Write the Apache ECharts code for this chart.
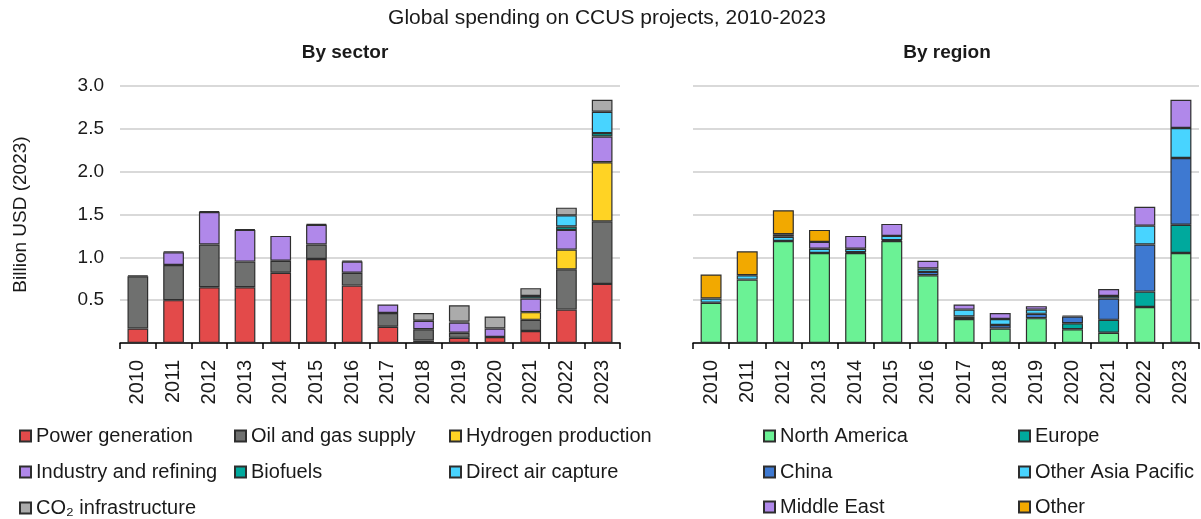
<!DOCTYPE html>
<html>
<head>
<meta charset="utf-8">
<script src="https://cdn.jsdelivr.net/npm/echarts@6/dist/echarts.min.js"></script>
<style>
html,body{margin:0;padding:0;background:#fff;}
#c{width:1201px;height:519px;}
</style>
</head>
<body>
<div id="c"></div>
<script>
var years = ['2010','2011','2012','2013','2014','2015','2016','2017','2018','2019','2020','2021','2022','2023'];
var yTicks = [0, 0.5, 1.0, 1.5, 2.0, 2.5, 3.0];

// By sector
var powerGeneration   = [0.17, 0.50, 0.65, 0.65, 0.82, 0.98, 0.67, 0.19, 0.03, 0.06, 0.07, 0.14, 0.39, 0.69];
var oilAndGas         = [0.61, 0.41, 0.50, 0.30, 0.14, 0.17, 0.15, 0.16, 0.13, 0.06, null, 0.13, 0.47, 0.73];
var hydrogen          = [null, null, null, null, null, null, null, null, null, null, null, 0.09, 0.23, 0.69];
var industry          = [null, 0.15, 0.38, 0.37, 0.29, 0.23, 0.13, 0.10, 0.10, 0.12, 0.10, 0.16, 0.23, 0.30];
var biofuels          = [0.01, 0.01, 0.01, 0.01, null, 0.01, 0.01, null, null, 0.01, null, 0.03, 0.04, 0.04];
var directAirCapture  = [null, null, null, null, null, null, null, null, null, null, null, null, 0.13, 0.25];
var co2Infrastructure = [null, null, null, null, null, null, null, null, 0.09, 0.19, 0.14, 0.09, 0.09, 0.14];

// By region
var northAmerica      = [0.47, 0.74, 1.19, 1.05, 1.05, 1.19, 0.79, 0.28, 0.17, 0.29, 0.16, 0.12, 0.42, 1.05];
var europe            = [null, null, null, null, null, null, null, null, null, null, 0.07, 0.15, 0.18, 0.33];
var china             = [null, null, null, null, 0.01, 0.01, 0.04, 0.03, 0.04, 0.05, 0.08, 0.25, 0.55, 0.78];
var otherAsiaPacific  = [0.05, 0.05, 0.05, 0.05, 0.04, 0.05, 0.04, 0.08, 0.07, 0.05, 0.01, 0.03, 0.22, 0.35];
var middleEast        = [null, null, 0.03, 0.08, 0.15, 0.14, 0.09, 0.06, 0.07, 0.04, null, 0.08, 0.22, 0.33];
var other             = [0.28, 0.28, 0.28, 0.14, null, null, null, null, null, null, null, null, null, null];

var FONT = "'Liberation Sans', Arial, sans-serif";
var TXT = '#1a1a1a';

var sectorSeries = [
  {name:'Power generation', data:powerGeneration, color:'#E34A4A'},
  {name:'Oil and gas supply', data:oilAndGas, color:'#6F706F'},
  {name:'Hydrogen production', data:hydrogen, color:'#FFD324'},
  {name:'Industry and refining', data:industry, color:'#B088EA'},
  {name:'Biofuels', data:biofuels, color:'#00A99D'},
  {name:'Direct air capture', data:directAirCapture, color:'#48D4FF'},
  {name:'CO\u2082 infrastructure', data:co2Infrastructure, color:'#ABABAB'}
];
var regionSeries = [
  {name:'North America', data:northAmerica, color:'#6BF295'},
  {name:'Europe', data:europe, color:'#00A99D'},
  {name:'China', data:china, color:'#3E79D1'},
  {name:'Other Asia Pacific', data:otherAsiaPacific, color:'#48D4FF'},
  {name:'Middle East', data:middleEast, color:'#B088EA'},
  {name:'Other', data:other, color:'#F2A900'}
];

function mkSeries(list, idx, stack){
  return list.map(function(s){
    return {
      type:'bar', name:s.name, data:s.data, stack:stack,
      xAxisIndex:idx, yAxisIndex:idx, barWidth:'58%',
      itemStyle:{color:s.color, borderColor:'#2e2e2e', borderWidth:1.2},
      emphasis:{disabled:true}
    };
  });
}

function xAx(idx){
  return {
    type:'category', gridIndex:idx, data:years,
    axisLine:{show:true, lineStyle:{color:'#000', width:1.5}},
    axisTick:{show:true, length:6, lineStyle:{color:'#000', width:1.5}},
    axisLabel:{rotate:90, margin:17, fontSize:20, color:TXT, fontFamily:FONT}
  };
}
function yAx(idx, showLabels){
  return {
    type:'value', gridIndex:idx, min:yTicks[0], max:yTicks[yTicks.length-1], interval:0.5,
    name: showLabels ? 'Billion USD (2023)' : '',
    nameLocation:'middle', nameGap:90,
    nameTextStyle:{fontSize:19, color:TXT, fontFamily:FONT},
    axisLine:{show:false}, axisTick:{show:false},
    splitLine:{show:true, lineStyle:{color:'#D9D9D9', width:2}},
    axisLabel:{show:showLabels, margin:16, fontSize:19, color:TXT, fontFamily:FONT,
      formatter:function(v){ return v === 0 ? '' : v.toFixed(1); }}
  };
}

var legendPos = [
  ['Power generation', 19, 436], ['Oil and gas supply', 234, 436], ['Hydrogen production', 449, 436],
  ['Industry and refining', 19, 472], ['Biofuels', 234, 472], ['Direct air capture', 449, 472],
  ['CO\u2082 infrastructure', 19, 508],
  ['North America', 763, 436], ['Europe', 1018, 436],
  ['China', 763, 472], ['Other Asia Pacific', 1018, 472],
  ['Middle East', 763, 507], ['Other', 1018, 507]
];
var legends = legendPos.map(function(p){
  return {
    data:[p[0]], left:p[1], top:p[2]-11, padding:0, itemGap:0,
    itemWidth:11, itemHeight:11, icon:'rect', selectedMode:false,
    textStyle:{fontSize:20, lineHeight:22, color:TXT, fontFamily:FONT}
  };
});

var chart = echarts.init(document.getElementById('c'), null, {renderer:'canvas'});
chart.setOption({
  animation:false,
  backgroundColor:'#fff',
  grid:[
    {left:120, width:500, top:86, bottom:176},
    {left:693, width:506, top:86, bottom:176}
  ],
  xAxis:[xAx(0), xAx(1)],
  yAxis:[yAx(0, true), yAx(1, false)],
  legend:legends,
  graphic:[
    {type:'text', x:607, y:18, style:{text:'Global spending on CCUS projects, 2010-2023', font:'21px '+FONT, fill:TXT, textAlign:'center', textVerticalAlign:'middle'}},
    {type:'text', x:345, y:53, style:{text:'By sector', font:'bold 19px '+FONT, fill:TXT, textAlign:'center', textVerticalAlign:'middle'}},
    {type:'text', x:947, y:53, style:{text:'By region', font:'bold 19px '+FONT, fill:TXT, textAlign:'center', textVerticalAlign:'middle'}}
  ],
  series: mkSeries(sectorSeries, 0, 'sector').concat(mkSeries(regionSeries, 1, 'region'))
});
</script>
</body>
</html>
